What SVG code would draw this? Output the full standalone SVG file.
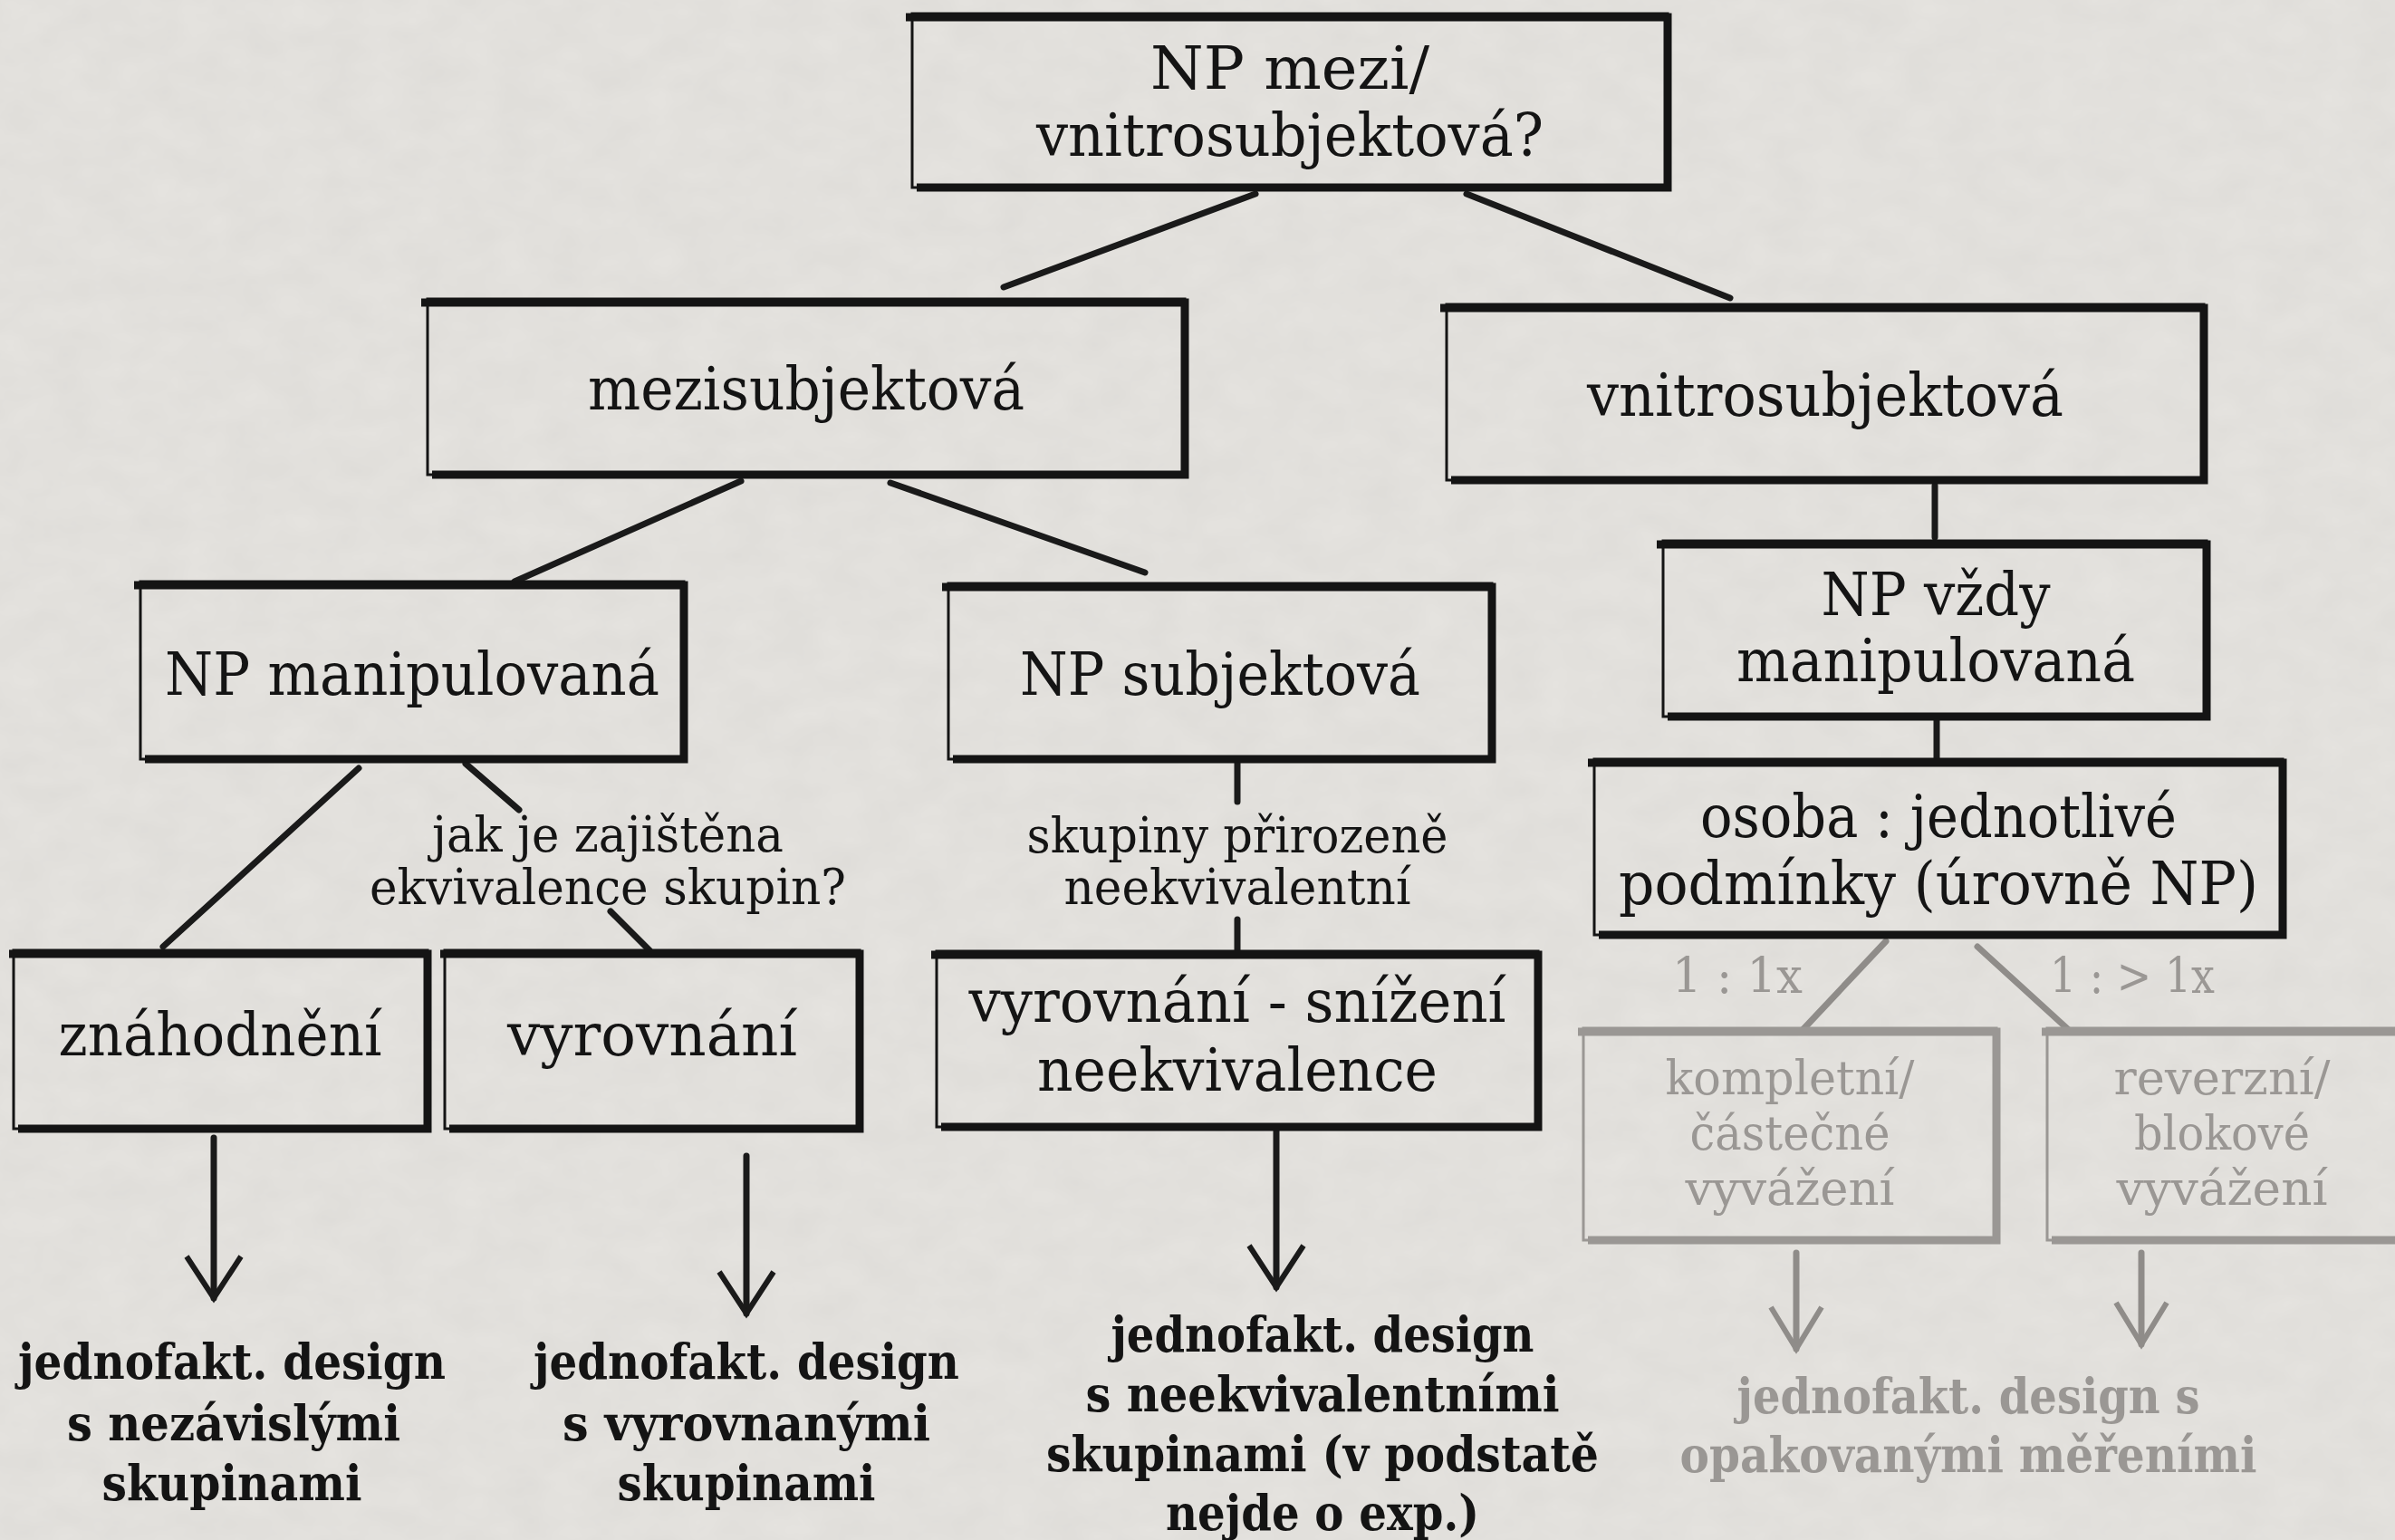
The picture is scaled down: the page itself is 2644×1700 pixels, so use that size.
<svg xmlns="http://www.w3.org/2000/svg" width="2644" height="1700" viewBox="0 0 2644 1700">
<defs>
<style>
.t{font-family:"DejaVu Serif","Liberation Serif",serif;font-size:66px;fill:#141414;text-anchor:middle}
.s{font-size:54px}
.gs{font-size:52px}
.b{font-weight:bold;font-size:54px}
.g{fill:#9a9794}
.fr{fill:none;stroke:#141414;stroke-width:3}
.hv{fill:none;stroke:#141414;stroke-width:9;stroke-linejoin:miter}
.gf{stroke:#9a9794}
.c{stroke:#1a1a1a;stroke-width:7;stroke-linecap:round;fill:none}
.gc{stroke:#8f8c89}
</style>
<marker id="ah" markerUnits="userSpaceOnUse" viewBox="-60 -45 70 90" markerWidth="70" markerHeight="90" refX="0" refY="0" orient="auto" overflow="visible">
<path d="M-46,-30 L0,0 L-46,30" fill="none" stroke="#1a1a1a" stroke-width="6" stroke-linejoin="miter"/>
</marker>
<marker id="ahg" markerUnits="userSpaceOnUse" viewBox="-60 -45 70 90" markerWidth="70" markerHeight="90" refX="0" refY="0" orient="auto" overflow="visible">
<path d="M-46,-28 L0,0 L-46,28" fill="none" stroke="#8f8c89" stroke-width="6"/>
</marker>
<filter id="paper" x="0" y="0" width="100%" height="100%">
<feTurbulence type="fractalNoise" baseFrequency="0.02 0.03" numOctaves="3" seed="4"/>
<feColorMatrix type="matrix" values="0 0 0 0 0  0 0 0 0 0  0 0 0 0 0  0 0 0 0.035 0"/>
</filter>
</defs>
<rect width="2644" height="1700" fill="#e6e4e0"/>
<rect width="2644" height="1700" filter="url(#paper)"/>

<g id="connectors">
<line class="c" x1="1386" y1="214" x2="1108" y2="317"/>
<line class="c" x1="1619" y1="214" x2="1910" y2="329"/>
<line class="c" x1="818" y1="531" x2="568" y2="642"/>
<line class="c" x1="983" y1="533" x2="1264" y2="632"/>
<line class="c" x1="2136" y1="536" x2="2136" y2="593"/>
<line class="c" x1="2138" y1="794" x2="2138" y2="838"/>
<line class="c" x1="396" y1="848" x2="180" y2="1045"/>
<line class="c" x1="514" y1="843" x2="573" y2="894"/>
<line class="c" x1="674" y1="1006" x2="717" y2="1049"/>
<line class="c" x1="1366" y1="841" x2="1366" y2="885"/>
<line class="c" x1="1366" y1="1015" x2="1366" y2="1049"/>
<line class="c gc" x1="2082" y1="1039" x2="1989" y2="1138"/>
<line class="c gc" x1="2183" y1="1045" x2="2285" y2="1138"/>
<line class="c" x1="236" y1="1256" x2="236" y2="1433" marker-end="url(#ah)"/>
<line class="c" x1="824" y1="1276" x2="824" y2="1450" marker-end="url(#ah)"/>
<line class="c" x1="1409" y1="1248" x2="1409" y2="1421" marker-end="url(#ah)"/>
<line class="c gc" x1="1983" y1="1383" x2="1983" y2="1489" marker-end="url(#ahg)"/>
<line class="c gc" x1="2364" y1="1383" x2="2364" y2="1484" marker-end="url(#ahg)"/>
</g>

<g id="n-top">
<rect class="fr" x="1007" y="15" width="834" height="192"/>
<path class="hv" d="M1000 19 H1841 V207 H1012"/>
<text class="t" x="1424" y="98" textLength="308" lengthAdjust="spacingAndGlyphs">NP mezi/</text>
<text class="t" x="1424" y="172" textLength="560" lengthAdjust="spacingAndGlyphs">vnitrosubjektová?</text>
</g>

<g id="n-mezi">
<rect class="fr" x="472" y="330" width="836" height="194"/>
<path class="hv" d="M465 334 H1308 V524 H477"/>
<text class="t" x="890" y="452" textLength="482" lengthAdjust="spacingAndGlyphs">mezisubjektová</text>
</g>

<g id="n-vnitro">
<rect class="fr" x="1597" y="336" width="836" height="194"/>
<path class="hv" d="M1590 340 H2433 V530 H1602"/>
<text class="t" x="2015" y="459" textLength="526" lengthAdjust="spacingAndGlyphs">vnitrosubjektová</text>
</g>

<g id="n-npman">
<rect class="fr" x="155" y="642" width="600" height="196"/>
<path class="hv" d="M148 646 H755 V838 H160"/>
<text class="t" x="455" y="767" textLength="546" lengthAdjust="spacingAndGlyphs">NP manipulovaná</text>
</g>

<g id="n-npsub">
<rect class="fr" x="1047" y="644" width="600" height="194"/>
<path class="hv" d="M1040 648 H1647 V838 H1052"/>
<text class="t" x="1347" y="767" textLength="442" lengthAdjust="spacingAndGlyphs">NP subjektová</text>
</g>

<g id="n-npvzdy">
<rect class="fr" x="1836" y="597" width="600" height="194"/>
<path class="hv" d="M1829 601 H2436 V791 H1841"/>
<text class="t" x="2137" y="679" textLength="253" lengthAdjust="spacingAndGlyphs">NP vždy</text>
<text class="t" x="2137" y="752" textLength="440" lengthAdjust="spacingAndGlyphs">manipulovaná</text>
</g>

<g id="n-osoba">
<rect class="fr" x="1760" y="838" width="760" height="194"/>
<path class="hv" d="M1753 842 H2520 V1032 H1765"/>
<text class="t" x="2140" y="924" textLength="526" lengthAdjust="spacingAndGlyphs">osoba : jednotlivé</text>
<text class="t" x="2140" y="998" textLength="706" lengthAdjust="spacingAndGlyphs">podmínky (úrovně NP)</text>
</g>

<g id="n-znah">
<rect class="fr" x="15" y="1049" width="457" height="197"/>
<path class="hv" d="M10 1053 H472 V1246 H20"/>
<text class="t" x="243" y="1165" textLength="357" lengthAdjust="spacingAndGlyphs">znáhodnění</text>
</g>

<g id="n-vyr">
<rect class="fr" x="491" y="1049" width="458" height="197"/>
<path class="hv" d="M486 1053 H949 V1246 H496"/>
<text class="t" x="720" y="1165" textLength="320" lengthAdjust="spacingAndGlyphs">vyrovnání</text>
</g>

<g id="n-vyrsniz">
<rect class="fr" x="1034" y="1050" width="664" height="194"/>
<path class="hv" d="M1028 1054 H1698 V1244 H1039"/>
<text class="t" x="1366" y="1128" textLength="593" lengthAdjust="spacingAndGlyphs">vyrovnání - snížení</text>
<text class="t" x="1366" y="1204" textLength="442" lengthAdjust="spacingAndGlyphs">neekvivalence</text>
</g>

<g id="n-komp">
<rect class="fr gf" x="1748" y="1135" width="456" height="234"/>
<path class="hv gf" d="M1742 1139 H2204 V1369 H1753"/>
<text class="t gs g" x="1976" y="1208" textLength="275" lengthAdjust="spacingAndGlyphs">kompletní/</text>
<text class="t gs g" x="1976" y="1269" textLength="221" lengthAdjust="spacingAndGlyphs">částečné</text>
<text class="t gs g" x="1976" y="1330" textLength="231" lengthAdjust="spacingAndGlyphs">vyvážení</text>
</g>

<g id="n-rev">
<rect class="fr gf" x="2260" y="1135" width="400" height="234"/>
<path class="hv gf" d="M2254 1139 H2660 M2660 1369 H2265"/>
<text class="t gs g" x="2453" y="1208" textLength="239" lengthAdjust="spacingAndGlyphs">reverzní/</text>
<text class="t gs g" x="2453" y="1269" textLength="194" lengthAdjust="spacingAndGlyphs">blokové</text>
<text class="t gs g" x="2453" y="1330" textLength="233" lengthAdjust="spacingAndGlyphs">vyvážení</text>
</g>

<g id="labels">
<text class="t s" x="671" y="940" textLength="388" lengthAdjust="spacingAndGlyphs">jak je zajištěna</text>
<text class="t s" x="671" y="998" textLength="526" lengthAdjust="spacingAndGlyphs">ekvivalence skupin?</text>
<text class="t s" x="1366" y="941" textLength="465" lengthAdjust="spacingAndGlyphs">skupiny přirozeně</text>
<text class="t s" x="1366" y="998" textLength="383" lengthAdjust="spacingAndGlyphs">neekvivalentní</text>
<text class="t s g" x="1918" y="1096" textLength="144" lengthAdjust="spacingAndGlyphs">1 : 1x</text>
<text class="t s g" x="2354" y="1096" textLength="182" lengthAdjust="spacingAndGlyphs">1 : &gt; 1x</text>
</g>

<g id="n-res1">
<text class="t b" x="256" y="1522" textLength="472" lengthAdjust="spacingAndGlyphs">jednofakt. design</text>
<text class="t b" x="258" y="1590" textLength="368" lengthAdjust="spacingAndGlyphs">s nezávislými</text>
<text class="t b" x="256" y="1656" textLength="287" lengthAdjust="spacingAndGlyphs">skupinami</text>
</g>
<g id="n-res2">
<text class="t b" x="824" y="1522" textLength="470" lengthAdjust="spacingAndGlyphs">jednofakt. design</text>
<text class="t b" x="824" y="1590" textLength="406" lengthAdjust="spacingAndGlyphs">s vyrovnanými</text>
<text class="t b" x="824" y="1656" textLength="285" lengthAdjust="spacingAndGlyphs">skupinami</text>
</g>
<g id="n-res3">
<text class="t b" x="1460" y="1492" textLength="467" lengthAdjust="spacingAndGlyphs">jednofakt. design</text>
<text class="t b" x="1460" y="1558" textLength="523" lengthAdjust="spacingAndGlyphs">s neekvivalentními</text>
<text class="t b" x="1460" y="1624" textLength="610" lengthAdjust="spacingAndGlyphs">skupinami (v podstatě</text>
<text class="t b" x="1460" y="1689" textLength="346" lengthAdjust="spacingAndGlyphs">nejde o exp.)</text>
</g>
<g id="n-res4">
<text class="t b g" x="2173" y="1560" textLength="511" lengthAdjust="spacingAndGlyphs">jednofakt. design s</text>
<text class="t b g" x="2173" y="1625" textLength="637" lengthAdjust="spacingAndGlyphs">opakovanými měřeními</text>
</g>
</svg>
